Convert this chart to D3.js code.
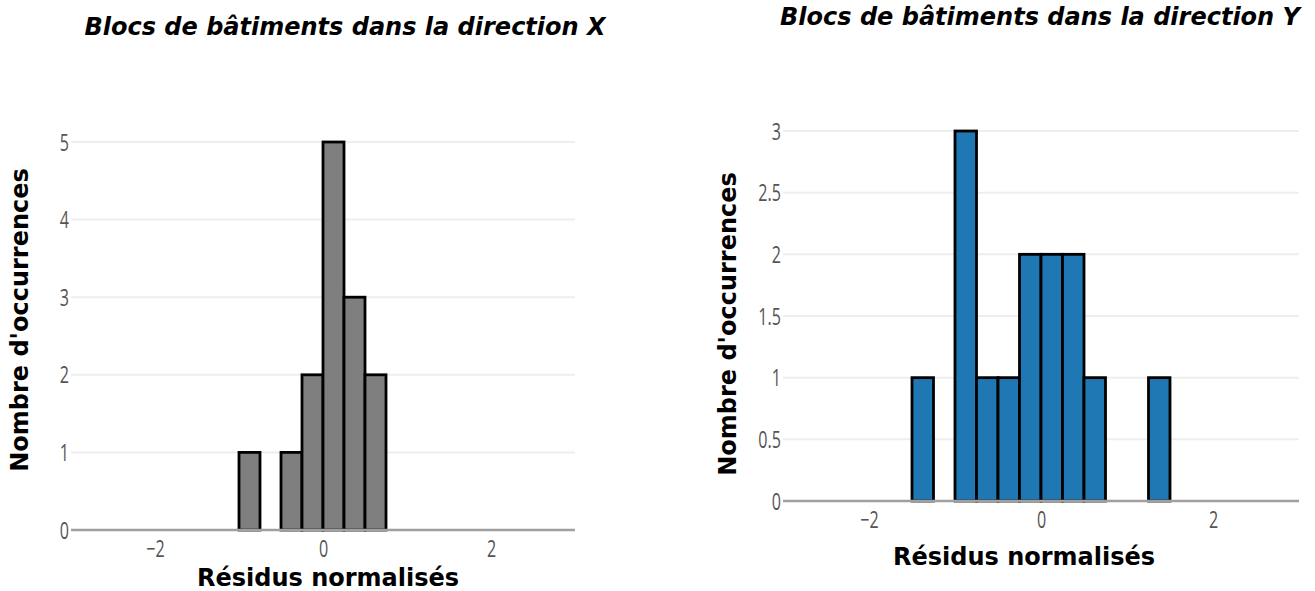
<!DOCTYPE html>
<html><head><meta charset="utf-8">
<script src="https://cdn.jsdelivr.net/npm/d3@7"></script>
<style>body{margin:0;background:#fff;}svg{display:block;}</style>
</head><body>
<svg id="c" width="1315" height="591"></svg>
<script>
const binEdges = [-1.5,-1.25,-1,-0.75,-0.5,-0.25,0,0.25,0.5,0.75,1,1.25,1.5];
const countsX = [0,0,1,0,1,2,5,3,2,0,0,0];
const countsY = [1,0,3,1,1,2,2,2,1,0,0,1];
const ticksXAxis = [-2,0,2];
const ticksLeftY = [0,1,2,3,4,5];
const ticksRightY = [0,0.5,1,1.5,2,2.5,3];
const titleX = "Blocs de bâtiments dans la direction X";
const titleY = "Blocs de bâtiments dans la direction Y";
const xLabel = "Résidus normalisés";
const yLabel = "Nombre d'occurrences";

const svg = d3.select("#c");

function panel(cfg){
  const g = svg.append("g");
  const x = d3.scaleLinear().domain([-3,3]).range([cfg.x0,cfg.x1]);
  const y = d3.scaleLinear().domain([0,cfg.ymax]).range([cfg.yb,cfg.yt]);
  g.append("g").selectAll("line").data(cfg.yticks.filter(d=>d>0)).join("line")
    .attr("x1",cfg.x0).attr("x2",cfg.x1).attr("y1",d=>y(d)).attr("y2",d=>y(d))
    .attr("stroke","#eeeeee").attr("stroke-width",2);
  const bins = cfg.counts.map((c,i)=>({x0:binEdges[i],x1:binEdges[i+1],c})).filter(b=>b.c>0);
  g.append("g").selectAll("rect").data(bins).join("rect")
    .attr("x",d=>x(d.x0)).attr("width",d=>x(d.x1)-x(d.x0))
    .attr("y",d=>y(d.c)).attr("height",d=>y(0)-y(d.c))
    .attr("fill",cfg.fill).attr("stroke","#000").attr("stroke-width",2.8);
  g.append("line").attr("x1",cfg.x0).attr("x2",cfg.x1).attr("y1",y(0)).attr("y2",y(0))
    .attr("stroke","#a0a0a0").attr("stroke-width",2.5);
  const ax = g.append("g").attr("transform",`translate(0,${cfg.yb})`)
    .call(d3.axisBottom(x).tickValues(ticksXAxis).tickSize(0).tickPadding(0).tickFormat(d3.format("d")));
  ax.select(".domain").remove();
  ax.selectAll("text").attr("y",0).attr("dy",null)
    .attr("transform","translate(0,27) scale(0.7,1)")
    .attr("font-family","Open Sans").attr("font-size",23).attr("fill","#555");
  const ay = g.append("g").attr("transform",`translate(${cfg.x0},0)`)
    .call(d3.axisLeft(y).tickValues(cfg.yticks).tickSize(0).tickPadding(0).tickFormat(d=>String(d)));
  ay.select(".domain").remove();
  ay.selectAll("text").attr("x",0).attr("dy",null)
    .attr("transform","translate(-2,8) scale(0.7,1)")
    .attr("font-family","Open Sans").attr("font-size",23).attr("fill","#555");
  svg.append("text").attr("x",cfg.tx).attr("y",cfg.ty).attr("text-anchor","middle")
    .attr("font-family","DejaVu Sans").attr("font-weight","bold").attr("font-style","italic")
    .attr("font-size",24).text(cfg.title);
  svg.append("text").attr("x",cfg.xlx).attr("y",cfg.xly).attr("text-anchor","middle")
    .attr("font-family","DejaVu Sans").attr("font-weight","bold").attr("font-size",24).text(xLabel);
  svg.append("text").attr("transform",`translate(${cfg.ylx},${cfg.yly}) rotate(-90)`).attr("text-anchor","middle")
    .attr("font-family","DejaVu Sans").attr("font-weight","bold").attr("font-size",24).text(yLabel);
}

panel({x0:71,x1:575,yb:530,yt:142,ymax:5,yticks:ticksLeftY,counts:countsX,fill:"#7f7f7f",
  title:titleX,tx:345,ty:35,xlx:328,xly:586,ylx:28,yly:320});
panel({x0:783,x1:1299,yb:501,yt:131,ymax:3,yticks:ticksRightY,counts:countsY,fill:"#1f77b4",
  title:titleY,tx:1040,ty:25,xlx:1024,xly:565,ylx:736,yly:324});
</script>
</body></html>
